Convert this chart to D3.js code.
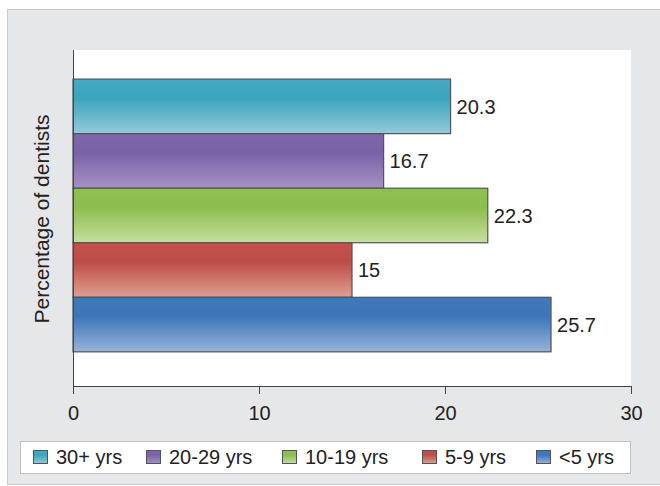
<!DOCTYPE html>
<html>
<head>
<meta charset="utf-8">
<script src="https://cdn.jsdelivr.net/npm/d3@7"></script>
<style>
  body { margin: 0; background: #fff; }
  text { font-family: "Liberation Sans", Arial, sans-serif; fill: #222; }
</style>
</head>
<body>
<div id="chart"></div>
<script>
// Horizontal bar chart: years of practice of dentists

var categories = ["30+ yrs", "20-29 yrs", "10-19 yrs", "5-9 yrs", "<5 yrs"];
var values = [20.3, 16.7, 22.3, 15, 25.7];
var xTicks = [0, 10, 20, 30];
var colors = [
  ["#45aac2", "#3ba4bd", "#93cbdb"],
  ["#7d65a9", "#7a62a6", "#a591c8"],
  ["#8fc052", "#8cbd4d", "#c6df9f"],
  ["#c2514e", "#be4c49", "#dfa08f"],
  ["#4079ba", "#3d76b8", "#97b3da"]
];

(function() {
  var W = 660, H = 486;
  var margin = { top: 50, left: 73, right: 29, bottom: 100 },
    width = W - margin.left - margin.right,
    height = H - margin.top - margin.bottom;

  var svg = d3.select("#chart")
    .append("svg")
    .attr("width", W)
    .attr("height", H);

  // gray panel
  svg.append("rect")
    .attr("x", 7.5).attr("y", 9.5)
    .attr("width", W - 7).attr("height", H - 11)
    .attr("fill", "#e6e7e9")
    .attr("stroke", "#c9cacc");

  var defs = svg.append("defs");
  colors.forEach(function(c, i) {
    var g = defs.append("linearGradient")
      .attr("id", "grad" + i)
      .attr("x1", 0).attr("y1", 0).attr("x2", 0).attr("y2", 1);
    g.append("stop").attr("offset", "0%").attr("stop-color", c[0]);
    g.append("stop").attr("offset", "35%").attr("stop-color", c[1]);
    g.append("stop").attr("offset", "100%").attr("stop-color", c[2]);
  });

  var chart = svg.append("g")
    .attr("transform", "translate(" + margin.left + "," + margin.top + ")");

  // white plot area
  chart.append("rect")
    .attr("width", width).attr("height", height)
    .attr("fill", "#fff");

  var xPositionScale = d3.scaleLinear().domain([0, 30]).range([0, width]);
  var yPositionScale = d3.scaleBand()
    .domain(categories)
    .range([0, height])
    .paddingInner(0)
    .paddingOuter(0.58)
    .align(0.46);

  chart.selectAll(".bar")
    .data(categories)
    .enter().append("rect")
    .attr("class", "bar")
    .attr("x", 0)
    .attr("y", function(d) { return yPositionScale(d); })
    .attr("width", function(d, i) { return xPositionScale(values[i]); })
    .attr("height", yPositionScale.bandwidth())
    .attr("fill", function(d, i) { return "url(#grad" + i + ")"; })
    .attr("stroke", "#4f5458")
    .attr("stroke-width", 1.2);

  chart.selectAll(".value")
    .data(categories)
    .enter().append("text")
    .attr("class", "value")
    .attr("x", function(d, i) { return xPositionScale(values[i]) + 6; })
    .attr("y", function(d) { return yPositionScale(d) + yPositionScale.bandwidth() / 2; })
    .attr("dy", "0.36em")
    .attr("font-size", 20)
    .text(function(d, i) { return values[i]; });

  var xAxis = d3.axisBottom(xPositionScale)
    .tickValues(xTicks)
    .tickSize(8)
    .tickPadding(12)
    .tickFormat(d3.format("d"));
  var gx = chart.append("g")
    .attr("class", "axis x-axis")
    .attr("transform", "translate(0," + height + ")")
    .call(xAxis);
  gx.select(".domain").attr("stroke", "#444").attr("d", "M0.5,8V0.5H" + (width + 0.5) + "V8");
  gx.selectAll(".tick line").attr("stroke", "#444");
  gx.selectAll(".tick text").attr("font-size", 20).attr("fill", "#222")
    .style("font-family", "Liberation Sans, Arial, sans-serif");

  chart.append("line")
    .attr("x1", 0.5).attr("x2", 0.5)
    .attr("y1", 0).attr("y2", height)
    .attr("stroke", "#444");

  svg.append("text")
    .attr("transform", "translate(49,219) rotate(-90)")
    .attr("text-anchor", "middle")
    .attr("font-size", 21)
    .text("Percentage of dentists");

  // legend
  var legend = svg.append("g").attr("transform", "translate(20,441)");
  legend.append("rect")
    .attr("x", 0.5).attr("y", 0.5)
    .attr("width", 610).attr("height", 32)
    .attr("fill", "#fff")
    .attr("stroke", "#bfc0c2");

  var legendX = [13, 126, 262, 402, 516];
  var items = legend.selectAll(".item")
    .data(categories)
    .enter().append("g")
    .attr("class", "item")
    .attr("transform", function(d, i) { return "translate(" + legendX[i] + ",0)"; });
  items.append("rect")
    .attr("x", 0.5).attr("y", 9.5)
    .attr("width", 14).attr("height", 13)
    .attr("fill", function(d, i) { return "url(#grad" + i + ")"; })
    .attr("stroke", "#4f5458");
  items.append("text")
    .attr("x", 23)
    .attr("y", 16)
    .attr("dy", "0.36em")
    .attr("font-size", 20)
    .text(function(d) { return d; });
})();
</script>
</body>
</html>
